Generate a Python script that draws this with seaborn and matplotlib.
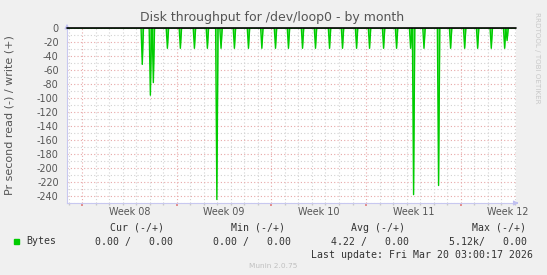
import numpy as np
import pandas as pd
import matplotlib
matplotlib.use("Agg")
import matplotlib.pyplot as plt
from matplotlib.patches import Rectangle
import seaborn as sns

# ---- data (days since start of Week 08, read throughput in bytes/s, negative = read) ----
spike_days = [4.44, 5.04, 5.26, 6.30, 7.26, 8.30, 9.26, 9.96, 10.27, 11.26, 12.30, 13.29,
              14.30, 15.26, 16.30, 17.26, 18.30, 19.26, 20.30, 21.26, 22.30, 23.26,
              24.30, 24.52, 25.29, 26.37, 27.26, 28.30, 29.26, 30.27, 31.26, 31.44]
spike_vals = [-52, -96, -78, -29, -29, -29, -29, -245, -29, -29, -29, -29,
              -29, -29, -29, -29, -29, -29, -29, -29, -29, -29,
              -29, -238, -29, -225, -29, -29, -29, -29, -29, -18]
x_range = [-1.13, 32.1]
week_starts = [0, 7, 14, 21, 28]
week_labels = ["Week 08", "Week 09", "Week 10", "Week 11", "Week 12"]
y_ticks = [0, -20, -40, -60, -80, -100, -120, -140, -160, -180, -200, -220, -240]

legend_name = "Bytes"
legend_headers = ["Cur (-/+)", "Min (-/+)", "Avg (-/+)", "Max (-/+)"]
legend_values = ["0.00 /   0.00", "0.00 /   0.00", "4.22 /   0.00", "5.12k/   0.00"]
last_update = "Last update: Fri Mar 20 03:00:17 2026"

# ---- build the line through each sample (zero baseline between samples) ----
half_w = 0.09
t, v = [x_range[0]], [0.0]
for d, val in zip(spike_days, spike_vals):
    t += [d - half_w, d, d + half_w]
    v += [0.0, val, 0.0]
t.append(x_range[1]); v.append(0.0)
df = pd.DataFrame({"day": t, "value": v})

sns.set_theme(style="white")
plt.rcParams["font.family"] = ["DejaVu Sans"]

W, H = 547, 275
fig = plt.figure(figsize=(W / 100, H / 100), dpi=100, facecolor="#f0f0f0")
left, right, top, bottom = 67, 516, 28, 203
ax = fig.add_axes([left / W, (H - bottom) / H, (right - left) / W, (bottom - top) / H])
ax.set_facecolor("white")

green = "#00cc00"
ax.fill_between(df["day"], df["value"], 0, color="#66e066", lw=0, zorder=3)
sns.lineplot(data=df, x="day", y="value", ax=ax, color=green, lw=1.0, zorder=4,
             estimator=None, sort=False)
ax.axhline(0, color="black", lw=1.2, zorder=5, clip_on=False)

ax.set_xlim(*x_range)
ax.set_ylim(-250, 0)

# grid
ax.set_xticks(week_starts)
ax.set_xticks(np.arange(-1, 33, 1), minor=True)
ax.set_yticks(y_ticks)
ax.set_yticks(np.arange(-250, 1, 10), minor=True)
ax.grid(which="minor", color="#d2d2d2", ls=(0, (1, 2)), lw=0.8, zorder=1)
ax.grid(which="major", color="#e8a8a8", ls=(0, (1, 2)), lw=0.8, zorder=2)
ax.set_xticklabels([])
ax.set_yticklabels([str(y) for y in y_ticks])
ax.tick_params(axis="y", which="both", length=0, pad=6, labelsize=6.9, labelcolor="#555555")
ax.tick_params(axis="x", which="major", length=2, color="#e08080", direction="out", bottom=True)
ax.tick_params(axis="x", which="minor", length=1.5, color="#c8c8c8", direction="out", bottom=True)
ax.set_xlabel("")
ax.set_ylabel("")

for s in ["top", "right"]:
    ax.spines[s].set_visible(False)
for s in ["left", "bottom"]:
    ax.spines[s].set_color("#c8c8f0")
    ax.spines[s].set_linewidth(0.8)

ax.annotate("", xy=(1.012, 0), xytext=(0.995, 0), xycoords="axes fraction",
            arrowprops=dict(arrowstyle="-|>", color="#c0c0f0", lw=0.8, mutation_scale=7), annotation_clip=False)
ax.annotate("", xy=(0, 1.04), xytext=(0, 0.99), xycoords="axes fraction",
            arrowprops=dict(arrowstyle="-|>", color="#c0c0f0", lw=0.8, mutation_scale=7), annotation_clip=False)

# week labels centred in each week
for ws, lab in zip(week_starts, week_labels):
    ax.text(ws + 3.5, -0.052, lab, transform=ax.get_xaxis_transform(), ha="center", va="center",
            fontsize=6.9, color="#555555", clip_on=False)

# title and side texts
fig.text(272 / W, 1 - 18 / H, "Disk throughput for /dev/loop0 - by month", ha="center", va="center",
         fontsize=9.0, color="#555555")
fig.text(10 / W, 1 - 115 / H, "Pr second read (-) / write (+)", rotation=90, ha="center", va="center",
         fontsize=8.0, color="#555555")
fig.text(537 / W, 1 - 58 / H, "RRDTOOL / TOBI OETIKER", rotation=270, ha="center", va="center",
         fontsize=5.1, color="#c8c8c8")

# legend area (monospace)
mono = dict(family="DejaVu Sans Mono", fontsize=7.1, color="#333333", va="center")
hdr_right = [164, 285, 405, 526]
val_right = [173, 291, 409, 527]
for xr, h in zip(hdr_right, legend_headers):
    fig.text(xr / W, 1 - 228 / H, h, ha="right", **mono)
for xr, val in zip(val_right, legend_values):
    fig.text(xr / W, 1 - 241.5 / H, val, ha="right", **mono)
fig.text(26 / W, 1 - 241.5 / H, legend_name, ha="left", **mono)
fig.add_artist(Rectangle((14 / W, 1 - 244 / H), 5 / W, 5 / H, color=green, transform=fig.transFigure))
fig.text(533 / W, 1 - 254.5 / H, last_update, ha="right", **mono)
fig.text(273 / W, 1 - 266.5 / H, "Munin 2.0.75", ha="center", va="center", fontsize=5.3, color="#c0c0c0")

fig.savefig("out.png", dpi=100, facecolor=fig.get_facecolor())
